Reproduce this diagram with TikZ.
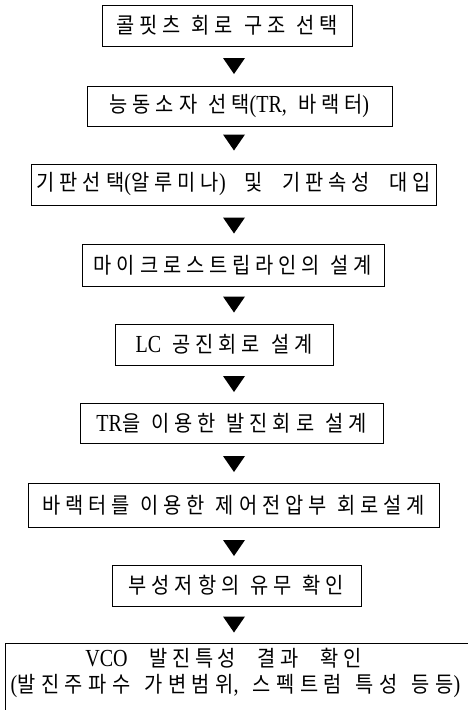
\documentclass[tikz,border=0pt]{standalone}
\usepackage{fontspec}
\setmainfont{Liberation Serif}
\newfontfamily\kr{Noto Sans CJK KR}[FakeStretch=0.9, LetterSpace=22, WordSpace=1.2]
\newfontfamily\krw{Noto Sans CJK KR}[FakeStretch=0.9, LetterSpace=23, WordSpace=2.0]
\newfontfamily\krl{Noto Sans CJK KR}[FakeStretch=0.9, LetterSpace=25, WordSpace=1.4]
\newfontfamily\krv{Noto Sans CJK KR}[FakeStretch=0.9, LetterSpace=21, WordSpace=2.4]
\newfontfamily\latf{Liberation Serif}[FakeStretch=0.82]
\newcommand{\lt}[1]{{\latf\fontsize{24.5}{28}\selectfont #1}}
\begin{document}
\begin{tikzpicture}[x=1pt,y=-1pt,
  txt/.style={inner sep=0pt, font=\kr\fontsize{22}{26}\selectfont},
  box/.style={draw, line width=1pt, inner sep=0pt, txt},
  downtri/.pic={\fill (-11,-8) -- (11,-8) -- (0,8) -- cycle;}]
\useasboundingbox (0,0) rectangle (468,710);
\node[box, minimum width=250pt, minimum height=41pt] (b1) at (227,25.5) {콜핏츠 회로 구조 선택};
\node[box, minimum width=305pt, minimum height=40pt] (b2) at (239.5,106) {능동소자 선택\lt{(TR,} 바랙터\lt{)}};
\node[box, minimum width=405pt, minimum height=41pt] (b3) at (233.5,184.5) {\krw 기판선택\lt{(}알루미나\lt{)} 및 기판속성 대입};
\node[box, minimum width=302pt, minimum height=42pt] (b4) at (233,265) {마이크로스트립라인의 설계};
\node[box, minimum width=218pt, minimum height=41pt] (b5) at (224,344.5) {\lt{LC} 공진회로 설계};
\node[box, minimum width=303pt, minimum height=40pt] (b6) at (231.5,423) {\lt{TR}을 이용한 발진회로 설계};
\node[box, minimum width=411pt, minimum height=44pt] (b7) at (233.5,505) {바랙터를 이용한 제어전압부 회로설계};
\node[box, minimum width=249pt, minimum height=41pt] (b8) at (236.5,585.5) {부성저항의 유무 확인};
\node[box, anchor=north west, minimum width=480pt, minimum height=80pt] (b9) at (5,643) {};
\node[txt] (t9a) at (223.5,658) {\krv\lt{VCO} 발진특성 결과 확인};
\node[txt] (t9b) at (235.5,686) {\krl\lt{(}발진주파수 가변범위\lt{,} 스펙트럼 특성 등등\lt{)}};
\pic at (234,66) {downtri};
\pic at (234,142.5) {downtri};
\pic at (234,225.5) {downtri};
\pic at (234,304.5) {downtri};
\pic at (234,384) {downtri};
\pic at (234,464) {downtri};
\pic at (234,548) {downtri};
\pic at (234,624.5) {downtri};
\end{tikzpicture}
\end{document}
